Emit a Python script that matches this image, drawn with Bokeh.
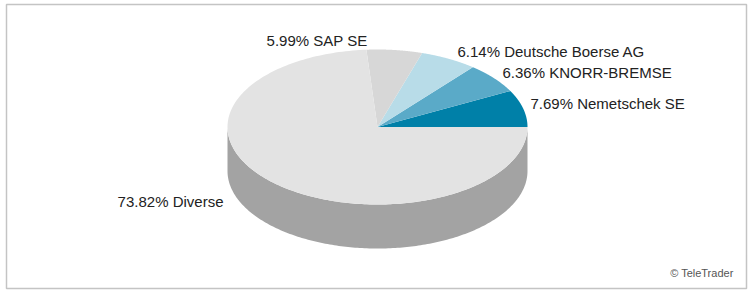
import numpy as np
from bokeh.plotting import figure
from bokeh.models import Range1d, Label
from bokeh.embed import file_html
from bokeh.resources import INLINE
from bokeh.core.properties import value

# ---- data ----
names = ["Nemetschek SE", "KNORR-BREMSE", "Deutsche Boerse AG", "SAP SE", "Diverse"]
shares = [7.69, 6.36, 6.14, 5.99, 73.82]
colors = ["#0080A8", "#5AAAC8", "#B8DCE8", "#D7D7D7", "#E3E3E3"]

# ---- layout ----
W, H = 751, 291
CX, CY, RX, RY, DEPTH = 377, 126.5, 150, 77.5, 44
# label anchor (x, y) and alignment
label_pos = [(530, 102.5, "left"), (502, 71.5, "left"), (457, 50.5, "left"),
             (367, 40, "right"), (223, 201, "right")]

p = figure(width=W, height=H, x_range=Range1d(0, W), y_range=Range1d(H, 0),
           output_backend="svg", toolbar_location=None, min_border=0)
p.axis.visible = False
p.grid.visible = False
p.outline_line_color = None
p.background_fill_color = "white"
p.border_fill_color = "white"

# frame box
p.quad(left=[6], right=[746], top=[4], bottom=[288], fill_color=None,
       line_color="#C4C4C4", line_width=1.5)


def darker(hexc, f=0.72):
    r, g, b = (int(hexc[i:i + 2], 16) for i in (1, 3, 5))
    return "#%02X%02X%02X" % (int(r * f), int(g * f), int(b * f))


def ex(t):
    return CX + RX * np.cos(t)


def ey(t, d=0.0):
    return CY - RY * np.sin(t) + d


total = sum(shares)
bounds = np.concatenate([[0], np.cumsum(shares)]) / total * 2 * np.pi

# side walls (front half: angles pi..2pi)
for i in range(len(shares)):
    a0 = max(bounds[i], np.pi)
    a1 = min(bounds[i + 1], 2 * np.pi)
    if a1 <= a0:
        continue
    t = np.linspace(a0, a1, 200)
    xs = list(ex(t)) + list(ex(t[::-1]))
    ys = list(ey(t)) + list(ey(t[::-1], DEPTH))
    p.patch(xs, ys, fill_color=darker(colors[i]), line_color=None)

# top slices
for i in range(len(shares)):
    t = np.linspace(bounds[i], bounds[i + 1], 200)
    xs = [CX] + list(ex(t))
    ys = [CY] + list(ey(t))
    p.patch(xs, ys, fill_color=colors[i], line_color=None)

# labels
for (lx, ly, al), nm, sh in zip(label_pos, names, shares):
    p.text(x=[lx], y=[ly], text=[f"{sh:.2f}% {nm}"], text_align=al,
           text_baseline="middle", text_font=value("Liberation Sans"),
           text_font_size="15px", text_color="#222222")

p.add_layout(Label(x=733, y=272, text="\u00a9 TeleTrader", text_align="right",
                   text_baseline="middle", text_font="Liberation Sans",
                   text_font_size="11px", text_color="#555555"))

open("out.html", "w").write(file_html(p, INLINE))
